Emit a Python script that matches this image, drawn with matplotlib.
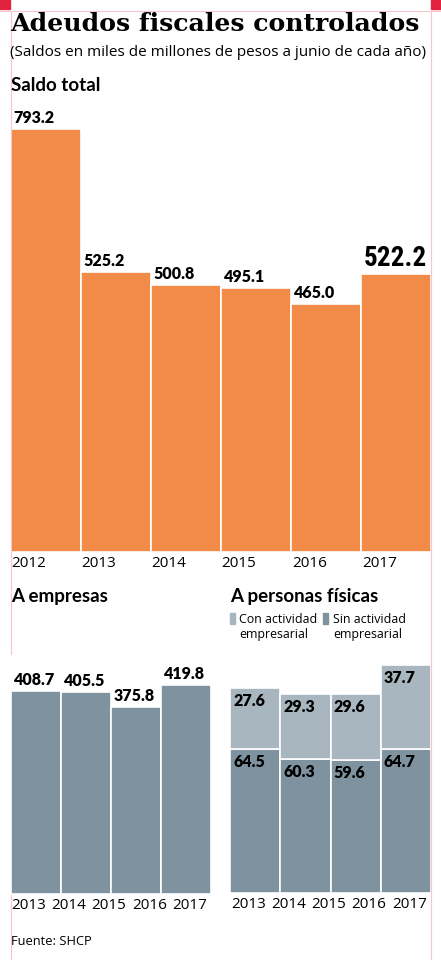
import matplotlib
matplotlib.use('Agg')
import matplotlib.pyplot as plt
from matplotlib import font_manager as fm
from matplotlib.patches import Rectangle
from matplotlib.lines import Line2D

# data
years_total = ['2012', '2013', '2014', '2015', '2016', '2017']
saldo_total = [793.2, 525.2, 500.8, 495.1, 465.0, 522.2]

years_low = ['2013', '2014', '2015', '2016', '2017']
empresas = [408.7, 405.5, 375.8, 419.8]
pf_sin = [64.5, 60.3, 59.6, 64.7]   # sin actividad empresarial
pf_con = [27.6, 29.3, 29.6, 37.7]   # con actividad empresarial

ORANGE = '#F28A48'
DARK = '#7E939F'
LIGHT = '#A8B6BF'
PINK = '#F7C5CE'
W, H = 441, 960

SANS = ['Open Sans', 'DejaVu Sans']
BOLD = ['Lato', 'DejaVu Sans']

# look for a narrow face for the big 2017 number (extra condensed first)
cond_family, cond_stretch, cond_size = 'DejaVu Sans', 'normal', 16
found = False
for stretch, key, size in [('extra-condensed', 'xtraCondensed', 24),
                           ('condensed', 'ondensed', 19.5)]:
    for fam in ['Noto Sans', 'Roboto Condensed', 'Roboto', 'DejaVu Sans Condensed',
                'DejaVu Sans', 'Noto Sans Condensed', 'Liberation Sans Narrow']:
        try:
            p = fm.findfont(fm.FontProperties(family=fam, weight='bold', stretch=stretch),
                            fallback_to_default=False)
        except ValueError:
            continue
        if key in p or (stretch == 'condensed' and 'Narrow' in p):
            cond_family, cond_stretch, cond_size = fam, stretch, size
            found = True
            break
    if found:
        break

fig = plt.figure(figsize=(W / 100, H / 100), dpi=100)


def box(l, t, r, b):
    # pixel box -> figure fraction [left, bottom, width, height]
    return [l / W, 1 - b / H, (r - l) / W, (b - t) / H]


def fx(x):
    return x / W


def fy(y):
    return 1 - y / H


# frame
fig.add_artist(Line2D([0, 1], [fy(10.5), fy(10.5)], color=PINK, lw=0.8))
fig.add_artist(Line2D([fx(10.5), fx(10.5)], [fy(10.5), fy(654)], color=PINK, lw=0.8))
fig.add_artist(Line2D([fx(10.5), fx(10.5)], [fy(895), 0], color=PINK, lw=0.8))
fig.add_artist(Line2D([fx(431), fx(431)], [fy(10.5), 0], color=PINK, lw=0.8))
fig.add_artist(Rectangle((0, fy(9)), fx(10), 9 / H, color='#E3223F', transform=fig.transFigure))
fig.add_artist(Rectangle((fx(431), fy(9)), fx(10), 9 / H, color='#E3223F', transform=fig.transFigure))

# titles
fig.text(fx(10), fy(31), 'Adeudos fiscales controlados', family='DejaVu Serif',
         weight='bold', fontsize=18.1, va='baseline')
fig.text(fx(10), fy(56), '(Saldos en miles de millones de pesos a junio de cada año)',
         family=SANS, fontsize=10.95, va='baseline')
fig.text(fx(11), fy(91), 'Saldo total', family=BOLD, weight='bold', fontsize=13.5, va='baseline')
fig.text(fx(11), fy(602), 'A empresas', family=BOLD, weight='bold', fontsize=13.5, va='baseline')
fig.text(fx(230), fy(602), 'A personas físicas', family=BOLD, weight='bold', fontsize=13.5,
         va='baseline')

# legend
fig.add_artist(Rectangle((fx(229.5), fy(624)), 5 / W, 11 / H, color=LIGHT, transform=fig.transFigure))
fig.add_artist(Rectangle((fx(323), fy(624)), 5 / W, 11 / H, color=DARK, transform=fig.transFigure))
for xl, first in [(239, 'Con actividad'), (333, 'Sin actividad')]:
    fig.text(fx(xl), fy(623), first, family=SANS, fontsize=8.9, va='baseline')
    fig.text(fx(xl), fy(638), 'empresarial', family=SANS, fontsize=8.9, va='baseline')

# saldo total
ax = fig.add_axes(box(10.5, 129, 431, 552))
x = range(len(saldo_total))
ax.bar(x, saldo_total, width=1, color=ORANGE, edgecolor='white', linewidth=1.2)
ax.set_xlim(-0.5, len(saldo_total) - 0.5)
ax.set_ylim(0, 793.2)
ax.axis('off')
for i, v in enumerate(saldo_total):
    if i == len(saldo_total) - 1:
        ax.annotate(f'{v:.1f}', (i - 0.5, v), xytext=(3, 2), textcoords='offset pixels',
                    family=cond_family, stretch=cond_stretch, weight='bold',
                    fontsize=cond_size, va='bottom')
    else:
        ax.annotate(f'{v:.1f}', (i - 0.5, v), xytext=(3, 3), textcoords='offset pixels',
                    family=BOLD, weight='heavy', fontsize=11.5, va='bottom')
    ax.annotate(years_total[i], (i - 0.5, 0), xytext=(1, -4), textcoords='offset pixels',
                family=SANS, fontsize=11, va='top', annotation_clip=False)

# a empresas
ax2 = fig.add_axes(box(10.5, 685, 211, 894))
x = range(len(empresas))
ax2.bar(x, empresas, width=1, color=DARK, edgecolor='white', linewidth=1.2)
ax2.set_xlim(-0.5, len(empresas) - 0.5)
ax2.set_ylim(0, max(empresas))
ax2.axis('off')
for i, v in enumerate(empresas):
    ax2.annotate(f'{v:.1f}', (i - 0.5, v), xytext=(3, 3), textcoords='offset pixels',
                 family=BOLD, weight='heavy', fontsize=11.5, va='bottom')

# a personas fisicas
ax3 = fig.add_axes(box(230, 665, 431, 893))
x = range(len(pf_sin))
tot = [a + b for a, b in zip(pf_sin, pf_con)]
ax3.bar(x, pf_sin, width=1, color=DARK, edgecolor='white', linewidth=1.2)
ax3.bar(x, pf_con, bottom=pf_sin, width=1, color=LIGHT, edgecolor='white', linewidth=1.2)
ax3.set_xlim(-0.5, len(pf_sin) - 0.5)
ax3.set_ylim(0, max(tot))
ax3.axis('off')
for i in x:
    ax3.annotate(f'{pf_con[i]:.1f}', (i - 0.5, tot[i]), xytext=(3, -5),
                 textcoords='offset pixels', family=BOLD, weight='heavy', fontsize=11.5, va='top')
    ax3.annotate(f'{pf_sin[i]:.1f}', (i - 0.5, pf_sin[i]), xytext=(3, -5),
                 textcoords='offset pixels', family=BOLD, weight='heavy', fontsize=11.5, va='top')

for a in (ax2, ax3):
    for j, lab in enumerate(years_low):
        a.annotate(lab, (j / len(years_low), 0), xycoords='axes fraction', xytext=(1, -4),
                   textcoords='offset pixels', family=SANS, fontsize=11, va='top',
                   annotation_clip=False)

fig.text(fx(11), fy(945), 'Fuente: SHCP', family=SANS, fontsize=9.3, va='baseline')

fig.savefig('out.png', dpi=100)
